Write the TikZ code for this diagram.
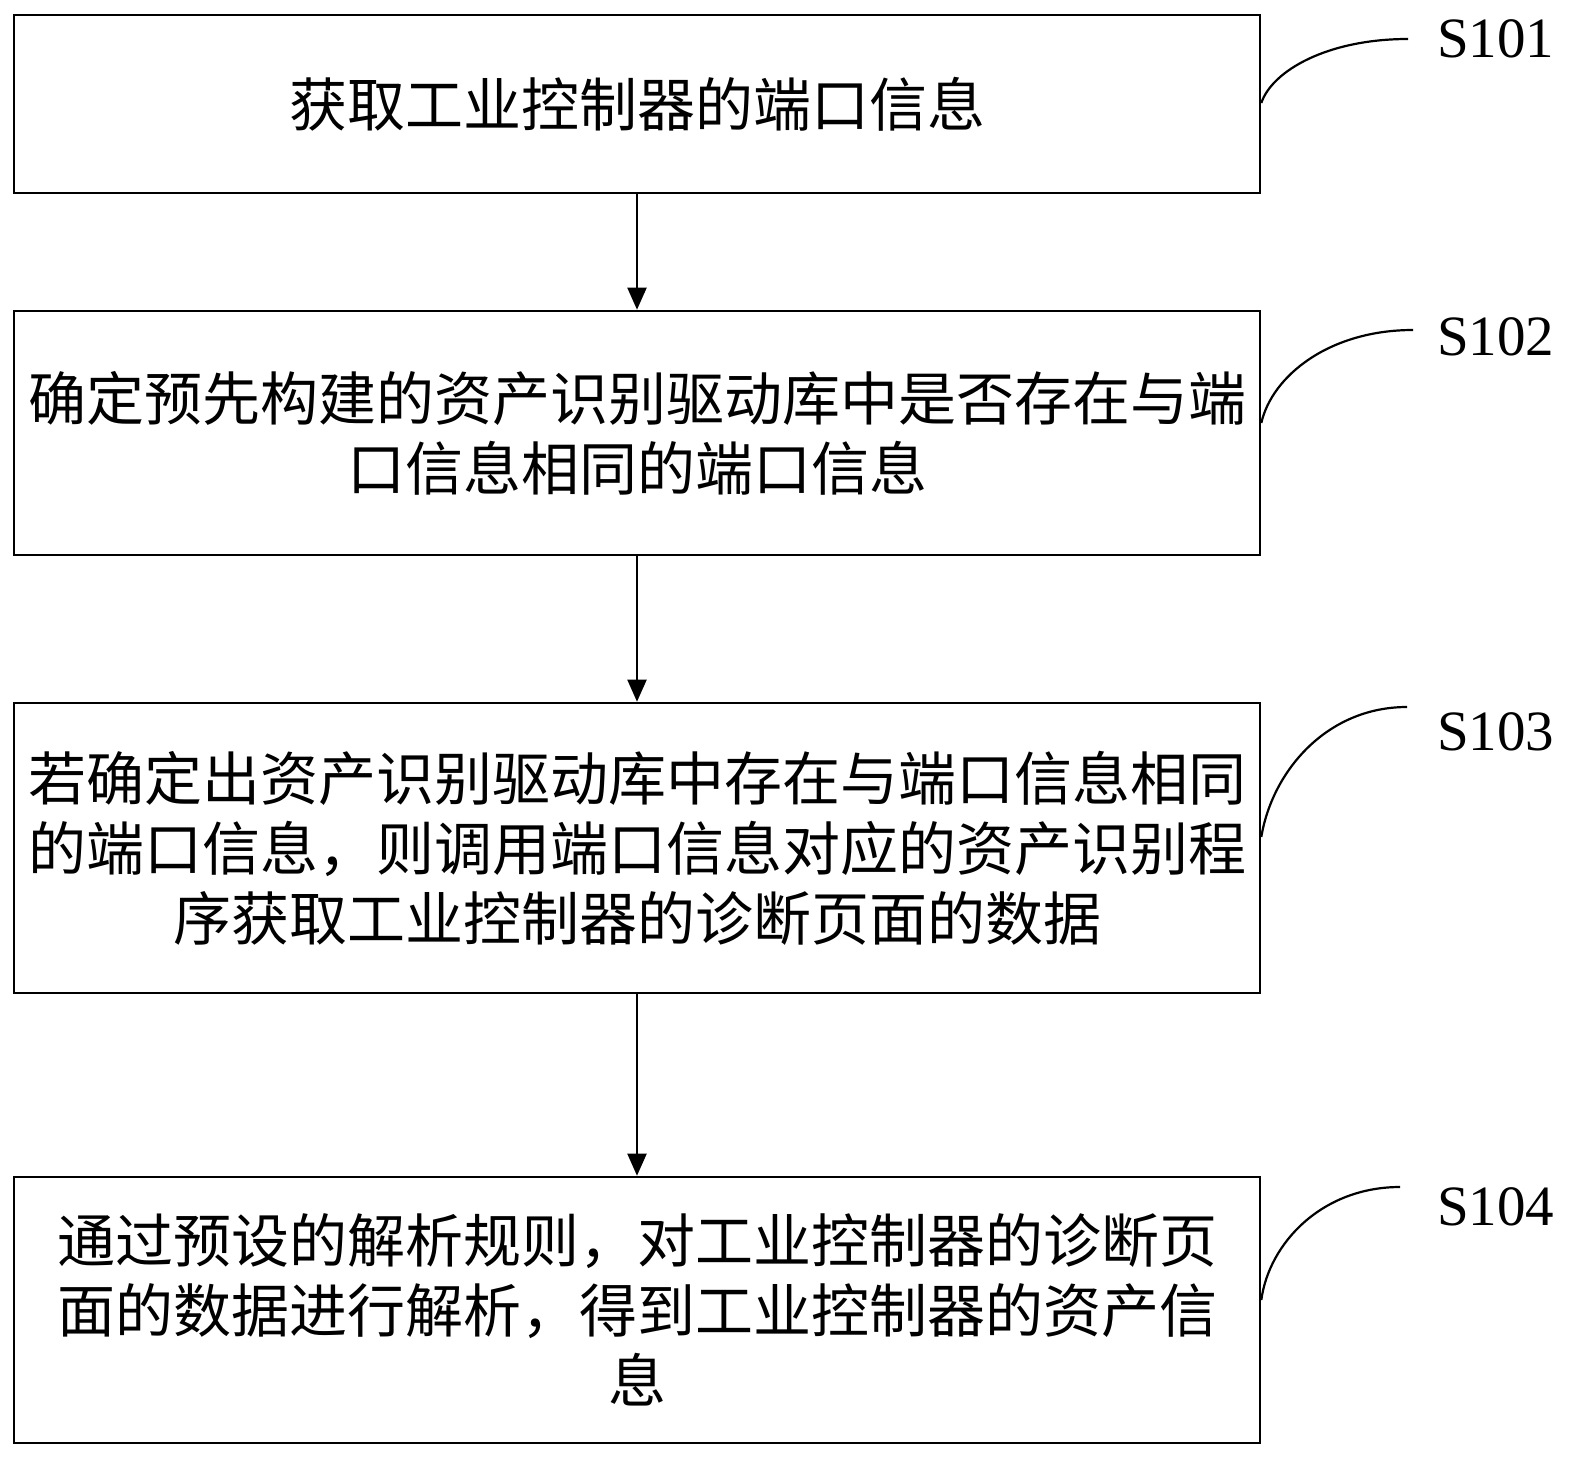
\documentclass[tikz,border=0pt]{standalone}
\usepackage{fontspec}
\setmainfont{Liberation Serif}
\newfontfamily\cjk{Noto Sans CJK SC}
\usetikzlibrary{arrows.meta}
\begin{document}
\begin{tikzpicture}[x=1pt,y=-1pt,
  stepbox/.style={draw, line width=2.6pt, minimum width=1246pt, inner sep=0pt,
    align=center, font=\cjk\fontsize{58}{70}\selectfont},
  flow/.style={line width=2pt, -{Triangle[length=22pt,width=19pt]}},
  leader/.style={line width=2.2pt},
  steplabel/.style={anchor=base west, inner sep=0pt, font=\fontsize{57}{60}\selectfont}]
\useasboundingbox (0,0) rectangle (1571,1458);
\fill[white] (0,0) rectangle (1571,1458);

\node[stepbox, minimum height=178pt] (b1) at (637,104) {获取工业控制器的端口信息};
\node[stepbox, minimum height=244pt] (b2) at (637,433)
  {确定预先构建的资产识别驱动库中是否存在与端\\口信息相同的端口信息};
\node[stepbox, minimum height=290pt] (b3) at (637,848)
  {若确定出资产识别驱动库中存在与端口信息相同\\的端口信息，则调用端口信息对应的资产识别程\\序获取工业控制器的诊断页面的数据};
\node[stepbox, minimum height=266pt] (b4) at (637,1310)
  {通过预设的解析规则，对工业控制器的诊断页\\面的数据进行解析，得到工业控制器的资产信\\息};

\draw[flow] (b1) -- (b2);
\draw[flow] (b2) -- (b3);
\draw[flow] (b3) -- (b4);

\node[steplabel] (l1) at (1437,58) {S101};
\node[steplabel] (l2) at (1437,355) {S102};
\node[steplabel] (l3) at (1437,750) {S103};
\node[steplabel] (l4) at (1437,1225) {S104};

\coordinate (e1) at (1408,39);
\coordinate (e2) at (1413,330);
\coordinate (e3) at (1407,707);
\coordinate (e4) at (1400,1187);

\draw[leader] ([yshift=1pt]b1.east) .. controls (1272,71) and (1327,39) .. (e1);
\draw[leader] ([yshift=10pt]b2.east) .. controls (1272,376) and (1329,330) .. (e2);
\draw[leader] ([yshift=11pt]b3.east) .. controls (1272,772) and (1326,707) .. (e3);
\draw[leader] ([yshift=10pt]b4.east) .. controls (1269,1243) and (1322,1187) .. (e4);
\end{tikzpicture}
\end{document}
